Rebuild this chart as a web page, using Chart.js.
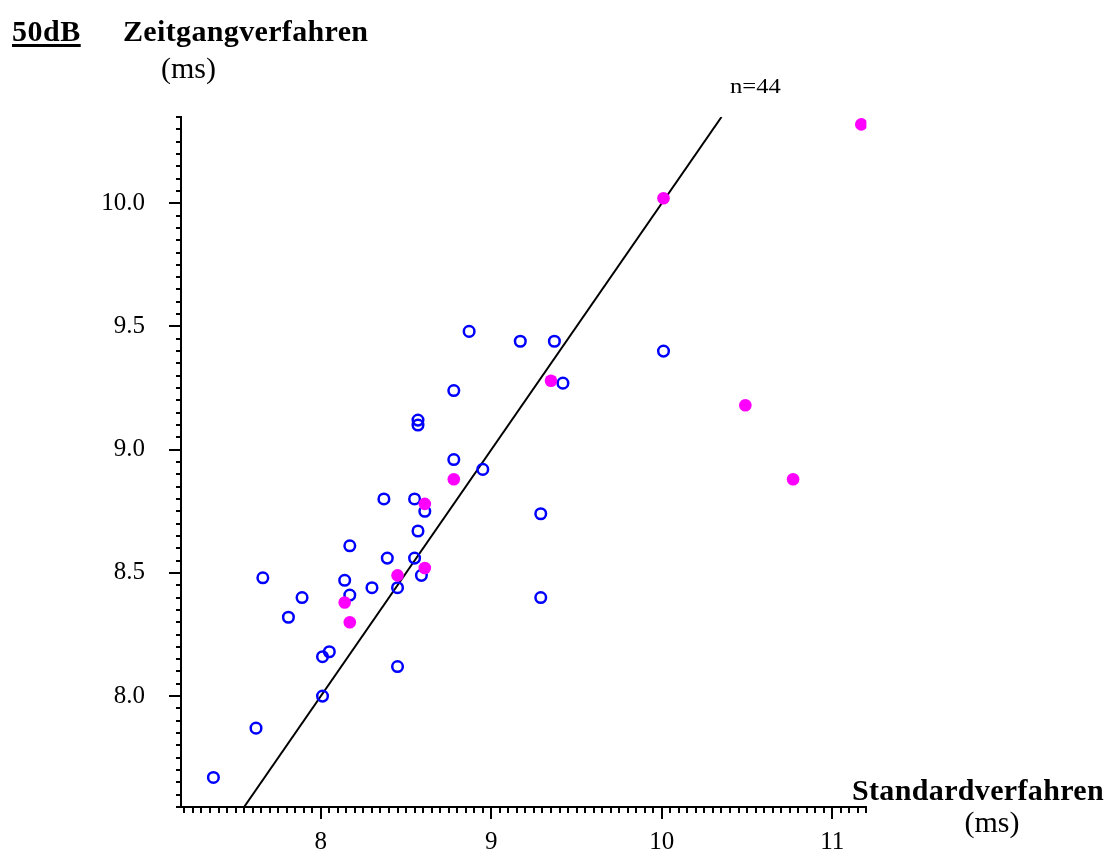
<!DOCTYPE html>
<html>
<head>
<meta charset="utf-8">
<script src="https://cdn.jsdelivr.net/npm/chart.js@4.4.0/dist/chart.umd.min.js"></script>
<style>
  body { margin: 0; background: #fff; }
  #wrap { position: relative; width: 1111px; height: 858px; }
  .lbl { position: absolute; font-family: "Liberation Serif", "Times New Roman", serif; color: #000; line-height: 1; white-space: nowrap; }
  .big { font-size: 30px; }
  .b { font-weight: bold; letter-spacing: 0.35px; }
</style>
</head>
<body>
<div id="wrap">
  <canvas id="myChart" width="1111" height="858"></canvas>
  <span class="lbl big b" style="left:12px; top:15.6px; letter-spacing:0.5px; text-decoration: underline; text-decoration-thickness: 3px; text-underline-offset: 3px;">50dB</span>
  <span class="lbl big b" style="left:123px; top:15.6px;">Zeitgangverfahren</span>
  <span class="lbl big" style="left:161px; top:53.4px;">(ms)</span>
  <span class="lbl" style="left:730px; top:75px; font-size:22px; transform: scaleX(1.12); transform-origin: left top;">n=44</span>
  <span class="lbl big b" style="left:852px; top:775px;">Standardverfahren</span>
  <span class="lbl big" style="left:964.5px; top:807.4px;">(ms)</span>
</div>
<script>
//data (ms)
const blueX = [7.37, 7.62, 7.66, 7.89, 7.81, 8.01, 8.01, 8.05, 8.14, 8.17, 8.17, 8.30, 8.37, 8.39, 8.45, 8.45, 8.55,
  8.55, 8.57, 8.57, 8.57, 8.59, 8.61, 8.78, 8.78, 8.87, 8.95, 9.17, 9.29, 9.29, 9.37, 9.42, 10.01];
const blueY = [7.67, 7.87, 8.48, 8.40, 8.32, 8.00, 8.16, 8.18, 8.47, 8.61, 8.41, 8.44, 8.80, 8.56, 8.44, 8.12, 8.80,
  8.56, 8.67, 9.12, 9.10, 8.49, 8.75, 9.24, 8.96, 9.48, 8.92, 9.44, 8.74, 8.40, 9.44, 9.27, 9.40];

const magentaX = [8.14, 8.17, 8.45, 8.61, 8.61, 8.78, 9.35, 10.01, 10.49, 10.77, 11.17];
const magentaY = [8.38, 8.30, 8.49, 8.78, 8.52, 8.88, 9.28, 10.02, 9.18, 8.88, 10.32];

//identity line y = x
const lineX = [7.55, 10.35];
const lineY = [7.55, 10.35];

const xTickValues = [8, 9, 10, 11];
const yTickValues = [8.0, 8.5, 9.0, 9.5, 10.0];

function toPoints(xs, ys) {
  return xs.map((x, i) => ({ x: x, y: ys[i] }));
}

// small ticks every 0.05, long ones at the labelled values
const minorTicks = {
  id: "minorTicks",
  afterDraw(chart) {
    const ctx = chart.ctx;
    const xs = chart.scales.x;
    const ys = chart.scales.y;
    ctx.save();
    ctx.strokeStyle = "#000";
    ctx.lineWidth = 2;
    for (let i = Math.ceil(xs.min * 20); i <= Math.floor(xs.max * 20); i++) {
      const px = Math.round(xs.getPixelForValue(i / 20));
      const len = i % 20 === 0 ? 12 : 6;
      ctx.beginPath();
      ctx.moveTo(px, xs.top);
      ctx.lineTo(px, xs.top + len);
      ctx.stroke();
    }
    for (let i = Math.ceil(ys.min * 20); i <= Math.floor(ys.max * 20); i++) {
      const py = Math.round(ys.getPixelForValue(i / 20));
      const len = i % 10 === 0 ? 12 : 5;
      ctx.beginPath();
      ctx.moveTo(ys.right, py);
      ctx.lineTo(ys.right - len, py);
      ctx.stroke();
    }
    ctx.restore();
  },
};

const tickFont = { family: "'Liberation Serif', 'Times New Roman', serif", size: 25 };

const config = {
  type: "scatter",
  data: {
    datasets: [
      {
        data: toPoints(magentaX, magentaY),
        backgroundColor: "#ff00ff",
        borderWidth: 0,
        pointRadius: 6.3,
        order: 1,
      },
      {
        data: toPoints(blueX, blueY),
        backgroundColor: "rgba(0,0,0,0)",
        borderColor: "#0000ff",
        borderWidth: 2.5,
        pointRadius: 5.3,
        order: 2,
      },
      {
        data: toPoints(lineX, lineY),
        showLine: true,
        borderColor: "#000",
        borderWidth: 2,
        pointRadius: 0,
        order: 3,
      },
    ],
  },
  options: {
    responsive: false,
    animation: false,
    layout: { padding: { left: 0, top: 117, right: 244.6, bottom: 0 } },
    plugins: { legend: { display: false }, tooltip: { enabled: false } },
    scales: {
      x: {
        type: "linear",
        min: 7.18,
        max: 11.2,
        grid: { display: false, drawTicks: false },
        border: { display: true, color: "#000", width: 2 },
        afterBuildTicks: (scale) => { scale.ticks = xTickValues.map((v) => ({ value: v })); },
        afterFit: (scale) => { scale.height = 46; },
        ticks: { color: "#000", font: tickFont, padding: 20, maxRotation: 0, callback: (v) => String(v) },
      },
      y: {
        type: "linear",
        min: 7.55,
        max: 10.35,
        grid: { display: false, drawTicks: false },
        border: { display: true, color: "#000", width: 2 },
        afterBuildTicks: (scale) => { scale.ticks = yTickValues.map((v) => ({ value: v })); },
        afterFit: (scale) => { scale.width = 181; },
        ticks: { color: "#000", font: tickFont, padding: 36, callback: (v) => Number(v).toFixed(1) },
      },
    },
  },
  plugins: [minorTicks],
};

var Zeitgang_Chart = new Chart(document.getElementById("myChart"), config);
</script>
</body>
</html>
